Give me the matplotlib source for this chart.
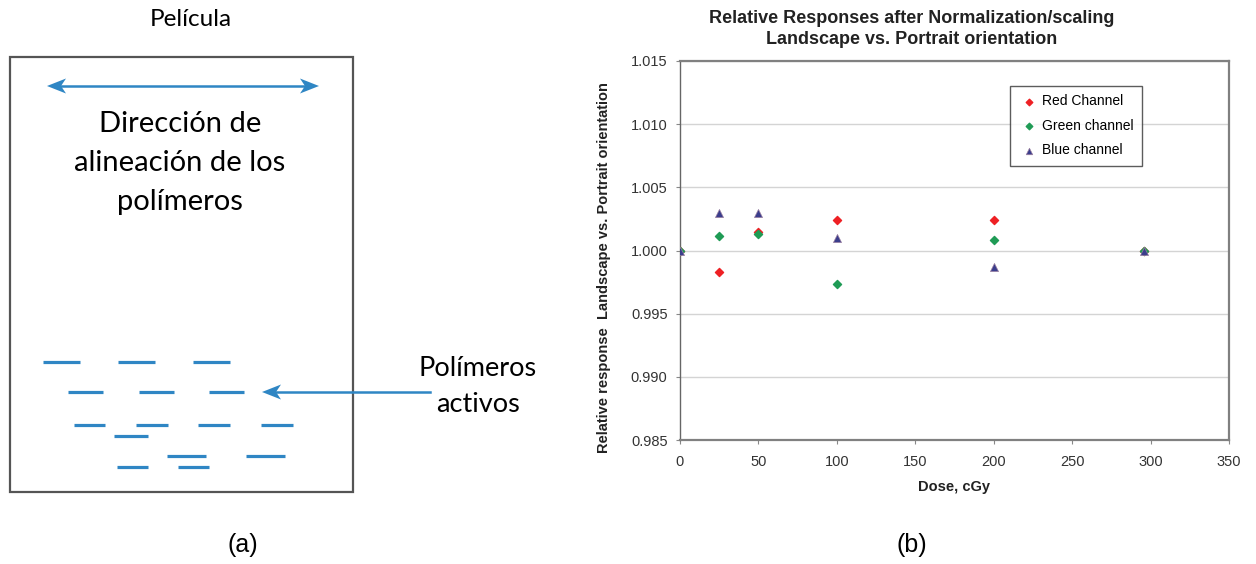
import matplotlib.pyplot as plt
from matplotlib.patches import Rectangle, Polygon

# scatter data: relative response (landscape / portrait) vs dose
dose = [0, 25, 50, 100, 200, 296]
red_resp = [1.0000, 0.99833, 1.00145, 1.00243, 1.00243, 1.0000]
green_resp = [1.0000, 1.00111, 1.00127, 0.99733, 1.00085, 1.0000]
blue_resp = [1.0000, 1.00293, 1.00293, 1.00101, 0.99868, 1.0000]

x_ticks = [0, 50, 100, 150, 200, 250, 300, 350]
y_ticks = [0.985, 0.990, 0.995, 1.000, 1.005, 1.010, 1.015]

# film sketch: polymer segments as (x0, x1, y) in pixels
segments = [
    (43, 80, 362), (118, 155, 362), (193, 230, 362),
    (68, 103, 392), (139, 174, 392), (209, 244, 392),
    (74, 105, 425), (136, 168, 425), (198, 230, 425), (261, 293, 425),
    (114, 148, 436),
    (167, 206, 456), (246, 285, 456),
    (117, 148, 467), (178, 209, 467),
]

W, H = 1256, 564
BLUE = '#2f86c4'


def stealth_head(ax, x, y, direction, length=19, half=7.5, notch=5):
    # arrow tip at (x, y); direction +1 points right, -1 points left
    d = direction
    pts = [(x, y), (x - d * length, y - half), (x - d * (length - notch), y), (x - d * length, y + half)]
    ax.add_patch(Polygon(pts, closed=True, color=BLUE, lw=0))


fig = plt.figure(figsize=(W / 100, H / 100), dpi=100)

# ---- panel (a): sketch drawn in pixel coordinates
ax0 = fig.add_axes([0, 0, 1, 1])
ax0.set_xlim(0, W)
ax0.set_ylim(H, 0)
ax0.axis('off')

sketch_font = 'Lato'
ax0.add_patch(Rectangle((10, 57), 343, 435, fill=False, edgecolor='#555555', lw=1.6))
ax0.text(191, 19, 'Película', ha='center', va='center', fontsize=17.5, family=sketch_font)
ax0.text(180, 163, 'Dirección de\nalineación de los\npolímeros', ha='center', va='center',
         fontsize=21, family=sketch_font, linespacing=1.62)

ax0.plot([58, 308], [86, 86], color=BLUE, lw=1.8)
stealth_head(ax0, 319, 86, 1)
stealth_head(ax0, 47, 86, -1)
ax0.plot([272, 430], [392, 392], color=BLUE, lw=1.8)
stealth_head(ax0, 262, 392, -1)

for x0, x1, y in segments:
    ax0.plot([x0, x1], [y, y], color=BLUE, lw=2.3, solid_capstyle='butt')

ax0.text(478, 369, 'Polímeros', ha='center', va='center', fontsize=19.5, family=sketch_font)
ax0.text(478, 405, 'activos', ha='center', va='center', fontsize=19.5, family=sketch_font)

ax0.text(243, 545, '(a)', ha='center', va='center', fontsize=18, family='Liberation Sans')
ax0.text(912, 545, '(b)', ha='center', va='center', fontsize=18, family='Liberation Sans')

# ---- panel (b): scatter chart
plt.rcParams['font.family'] = 'Liberation Sans'
left, right, top, bottom = 680, 1229, 61, 440
ax = fig.add_axes([left / W, 1 - bottom / H, (right - left) / W, (bottom - top) / H])

ax.scatter(dose, red_resp, marker='D', s=17, color='#ee2024', label='Red Channel', zorder=3)
ax.scatter(dose, green_resp, marker='D', s=17, color='#1f9b55', label='Green channel', zorder=3)
ax.scatter(dose, blue_resp, marker='^', s=34, color='#3b3d8c', edgecolor='#9a7fa0', lw=0.5,
           label='Blue channel', zorder=4)

ax.set_xlim(0, 350)
ax.set_ylim(0.985, 1.015)
ax.set_xticks(x_ticks)
ax.set_yticks(y_ticks)
ax.set_yticklabels(['%.3f' % v for v in y_ticks])
ax.tick_params(labelsize=10.5, colors='#333333', length=3, width=0.8, color='#888888')
ax.tick_params(axis='x', pad=8)
ax.tick_params(axis='y', pad=6)
ax.grid(axis='y', color='#d4d4d4', lw=1)
ax.set_axisbelow(True)
for side in ['top', 'right', 'bottom']:
    ax.spines[side].set_color('#808080')
    ax.spines[side].set_linewidth(1.6)
ax.spines['left'].set_color('#666666')
ax.spines['left'].set_linewidth(1.0)

ax.set_xlabel('Dose, cGy', fontsize=10.5, fontweight='bold', color='#222222', labelpad=8)
fig.text(604 / W, 1 - 268 / H, 'Relative response  Landscape vs. Portrait orientation',
         rotation=90, ha='center', va='center', fontsize=10.5, fontweight='bold', color='#222222')
fig.text(912 / W, 1 - 29 / H, 'Relative Responses after Normalization/scaling\nLandscape vs. Portrait orientation',
         ha='center', va='center', fontsize=13, fontweight='bold', color='#222222', linespacing=1.3)

leg = ax.legend(loc='upper left', bbox_to_anchor=((1010 - left) / (right - left), 1 - (86 - top) / (bottom - top)),
                fontsize=10, frameon=True, fancybox=False, edgecolor='#333333', handletextpad=0.1,
                labelspacing=0.75, borderpad=0.6, markerscale=0.8, handlelength=1.6,
                borderaxespad=0)
leg.get_frame().set_linewidth(1.0)

fig.savefig('out.png', dpi=100)
